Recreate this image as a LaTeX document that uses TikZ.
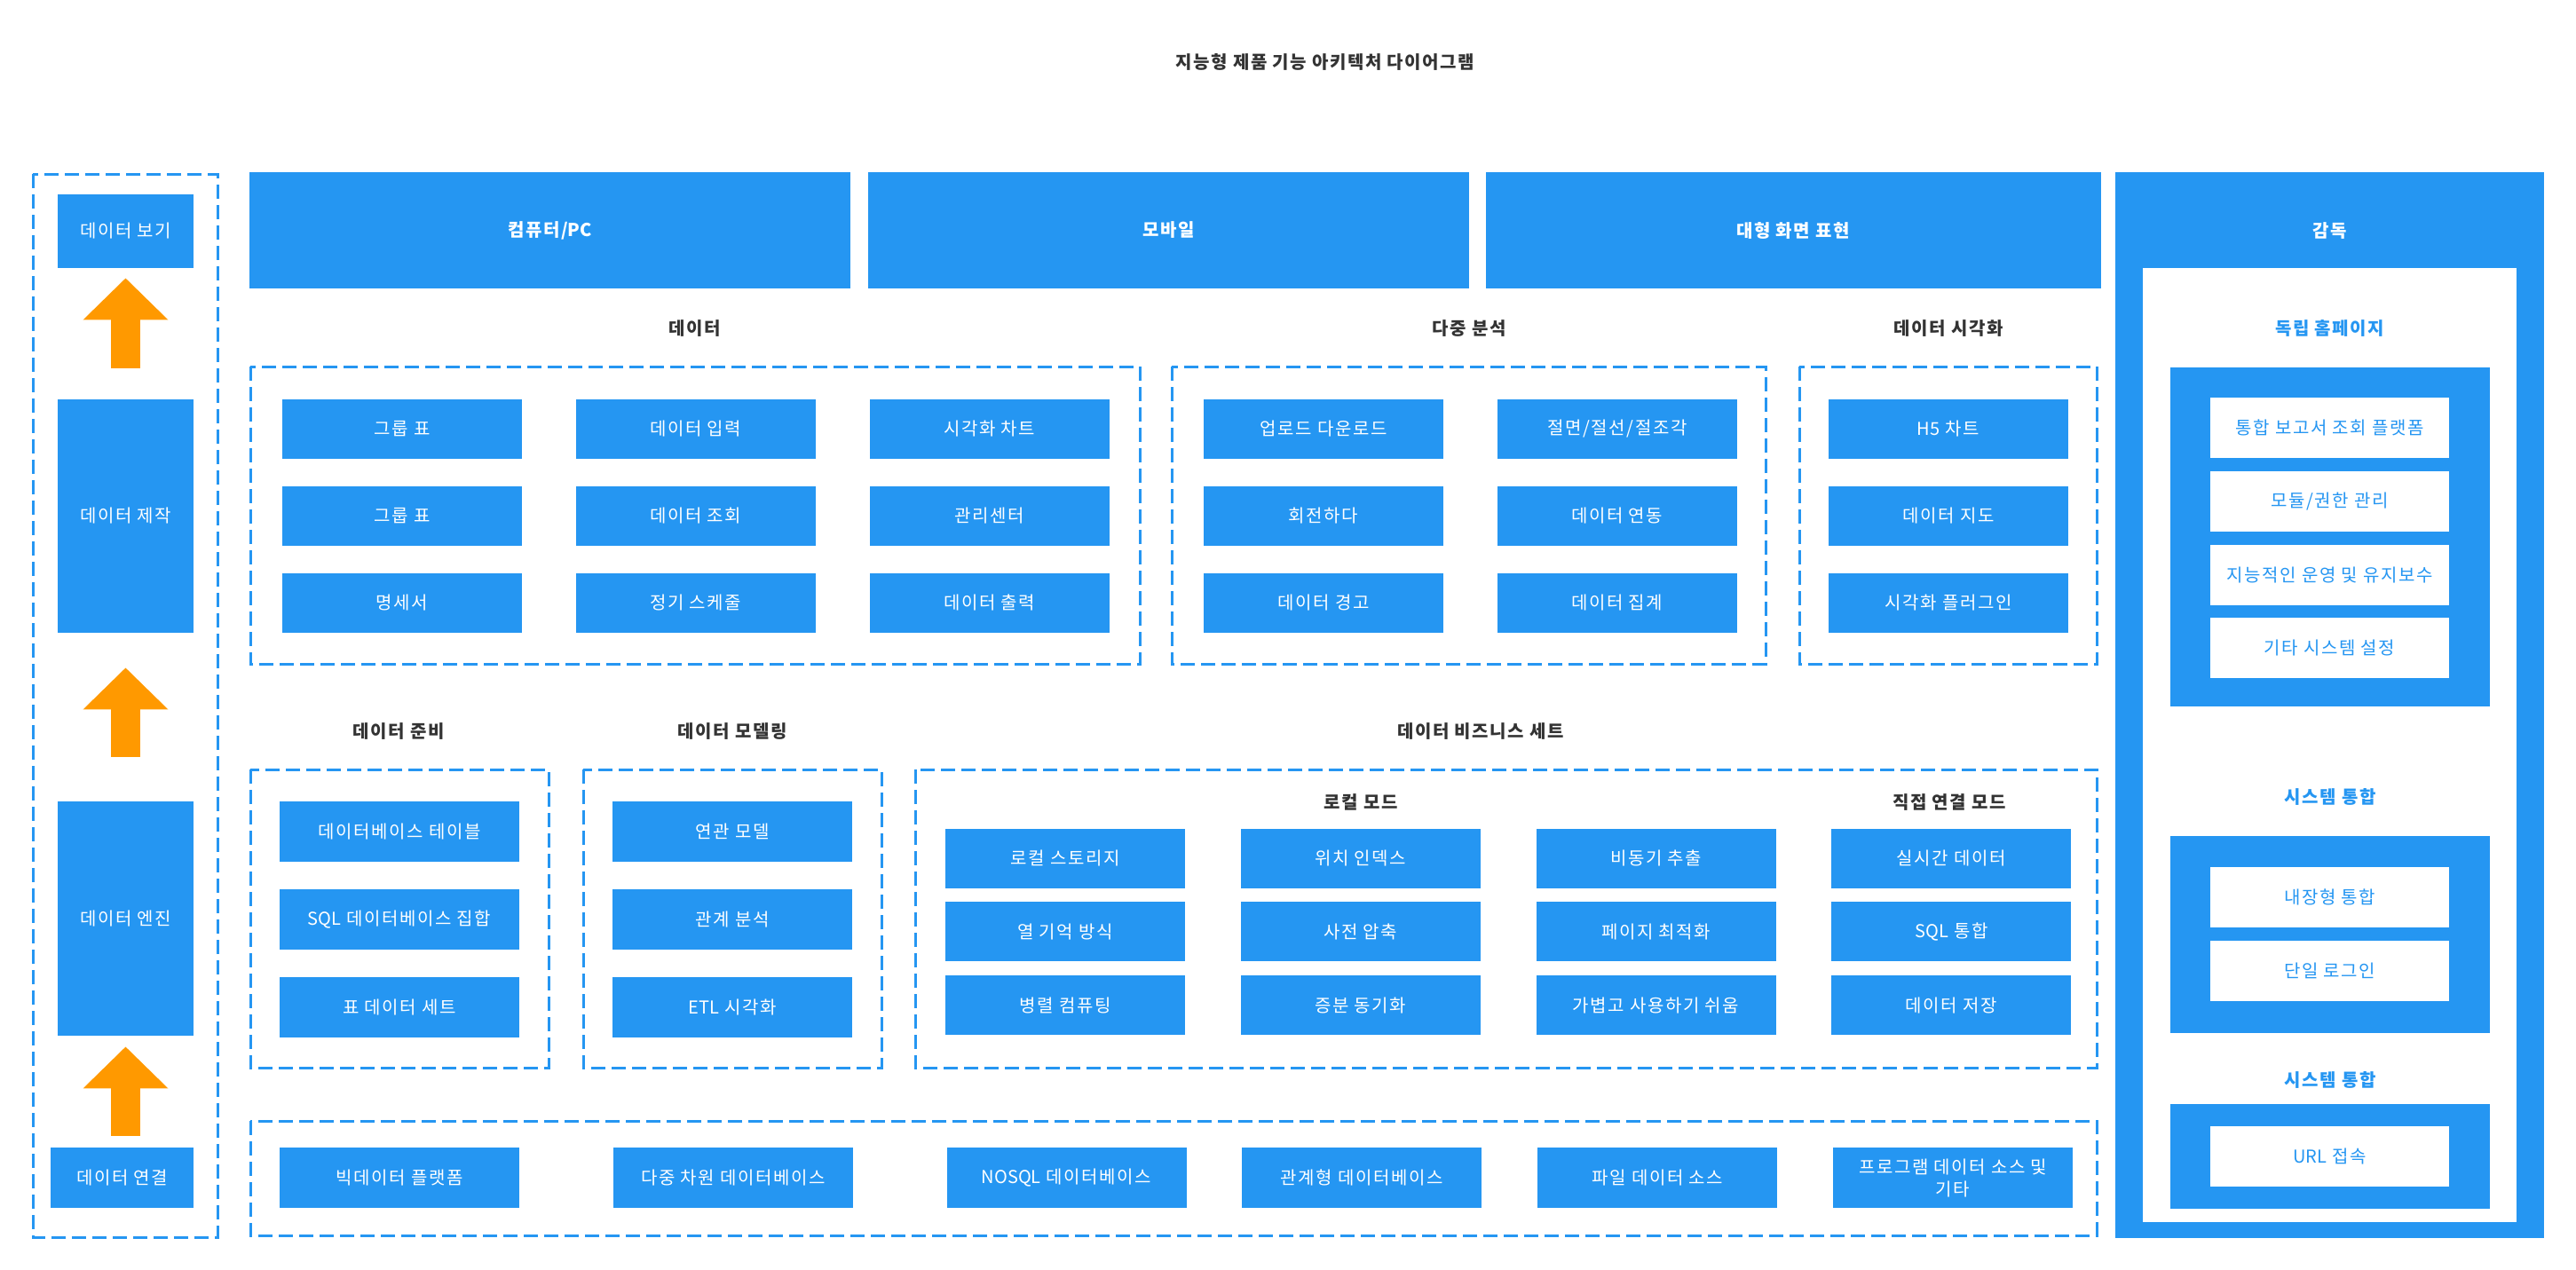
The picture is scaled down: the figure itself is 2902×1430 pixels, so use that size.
\documentclass[tikz,border=0pt]{standalone}
\usepackage{fontspec}
\setmainfont{Noto Sans CJK KR}[LetterSpace=8]
\newfontfamily\tightlatin{Noto Sans CJK KR}
\usetikzlibrary{positioning,arrows.meta}
\definecolor{archblue}{HTML}{2596F2}
\definecolor{archorange}{HTML}{FF9900}
\definecolor{archtext}{HTML}{333333}
\newcommand{\archfont}{\fontsize{10pt}{12.5pt}\selectfont}
\newcommand{\lat}[1]{{\tightlatin #1}}

\begin{document}
\begin{tikzpicture}[x=0.5pt, y=-0.5pt, every node/.style={font=\archfont, inner sep=0pt},
  cell/.style={fill=archblue, text=white, minimum width=135pt, minimum height=33.5pt},
  wcell/.style={fill=white, text=archblue, minimum width=134.5pt, minimum height=34pt},
  bar/.style={fill=archblue, text=white, font=\archfont\bfseries, minimum height=65.5pt},
  side/.style={fill=archblue, text=white, minimum width=76.5pt},
  heading/.style={text=archtext, font=\archfont\bfseries},
  bheading/.style={text=archblue, font=\archfont\bfseries},
  group/.style={draw=archblue, line width=1.5pt, dash pattern=on 8pt off 3.5pt},
  uparrow/.style={draw=archorange, line width=16.5pt, -{Triangle[length=23.5pt,width=46.5pt]}}]
  \useasboundingbox (0,0) rectangle (2902,1430);

  \node[heading] (title) at (1493,70) {지능형 제품 기능 아키텍처 다이어그램};

  \draw[group] (37,196) rectangle (245,1394);
  \node[side, minimum height=41.5pt] (view) at (141.5,260.5) {데이터 보기};
  \node[side, minimum height=131.5pt] (make) at (141.5,581.5) {데이터 제작};
  \node[side, minimum height=132pt] (engine) at (141.5,1035) {데이터 엔진};
  \node[side, minimum width=80.5pt, minimum height=34pt] (link) at (137.5,1327) {데이터 연결};
  \draw[uparrow, shorten <=6.5pt, shorten >=6pt] (link.north -| engine.south) -- (engine.south);
  \draw[uparrow, shorten <=25pt, shorten >=19.5pt] (engine.north) -- (make.south);
  \draw[uparrow, shorten <=17.5pt, shorten >=5.5pt] (make.north) -- (view.south);

  \node[bar, minimum width=338.5pt] (pc) at (619.5,259.5) {컴퓨터/\lat{PC}};
  \node[bar, minimum width=338.5pt, right=9.5pt of pc] (mobile) {모바일};
  \node[bar, minimum width=346.5pt, right=9pt of mobile] (screen) {대형 화면 표현};

  \node[heading] (hdata) at (783,370) {데이터};
  \draw[group] (282,413) rectangle (1284,748);
  \node[cell] (d11) at (453,483.5) {그룹 표};
  \node[cell, right=30pt of d11] (d12) {데이터 입력};
  \node[cell, right=30pt of d12] (d13) {시각화 차트};
  \node[cell, below=15pt of d11] (d21) {그룹 표};
  \node[cell, right=30pt of d21] (d22) {데이터 조회};
  \node[cell, right=30pt of d22] (d23) {관리센터};
  \node[cell, below=15pt of d21] (d31) {명세서};
  \node[cell, right=30pt of d31] (d32) {정기 스케줄};
  \node[cell, right=30pt of d32] (d33) {데이터 출력};

  \node[heading] (hmulti) at (1655,370) {다중 분석};
  \draw[group] (1320,413) rectangle (1989,748);
  \node[cell] (m11) at (1491,483.5) {업로드 다운로드};
  \node[cell, right=30pt of m11] (m12) {절면/절선/절조각};
  \node[cell, below=15pt of m11] (m21) {회전하다};
  \node[cell, right=30pt of m21] (m22) {데이터 연동};
  \node[cell, below=15pt of m21] (m31) {데이터 경고};
  \node[cell, right=30pt of m31] (m32) {데이터 집계};

  \node[heading] (hvis) at (2195,370) {데이터 시각화};
  \draw[group] (2027,413) rectangle (2362,748);
  \node[cell] (v1) at (2195,483.5) {\lat{H5} 차트};
  \node[cell, below=15pt of v1] (v2) {데이터 지도};
  \node[cell, below=15pt of v2] (v3) {시각화 플러그인};

  \node[heading] (hprep) at (449,824) {데이터 준비};
  \draw[group] (282,867) rectangle (618,1203);
  \node[cell, minimum height=34pt] (p1) at (450,937) {데이터베이스 테이블};
  \node[cell, minimum height=34pt, below=15pt of p1] (p2) {\lat{SQL} 데이터베이스 집합};
  \node[cell, minimum height=34pt, below=15pt of p2] (p3) {표 데이터 세트};

  \node[heading] (hmodel) at (825,824) {데이터 모델링};
  \draw[group] (657,867) rectangle (993,1203);
  \node[cell, minimum height=34pt] (mo1) at (825,937) {연관 모델};
  \node[cell, minimum height=34pt, below=15pt of mo1] (mo2) {관계 분석};
  \node[cell, minimum height=34pt, below=15pt of mo2] (mo3) {\lat{ETL} 시각화};

  \node[heading] (hbiz) at (1668,824) {데이터 비즈니스 세트};
  \draw[group] (1031,867) rectangle (2362,1203);
  \node[heading] (hlocal) at (1533,904) {로컬 모드};
  \node[heading] (hdirect) at (2196,904) {직접 연결 모드};
  \node[cell] (b11) at (1200,967) {로컬 스토리지};
  \node[cell, right=31pt of b11] (b12) {위치 인덱스};
  \node[cell, right=31pt of b12] (b13) {비동기 추출};
  \node[cell, right=31pt of b13] (b14) {실시간 데이터};
  \node[cell, below=7.5pt of b11] (b21) {열 기억 방식};
  \node[cell, right=31pt of b21] (b22) {사전 압축};
  \node[cell, right=31pt of b22] (b23) {페이지 최적화};
  \node[cell, right=31pt of b23] (b24) {\lat{SQL} 통합};
  \node[cell, below=7.5pt of b21] (b31) {병렬 컴퓨팅};
  \node[cell, right=31pt of b31] (b32) {증분 동기화};
  \node[cell, right=31pt of b32] (b33) {가볍고 사용하기 쉬움};
  \node[cell, right=31pt of b33] (b34) {데이터 저장};

  \draw[group] (282,1263) rectangle (2362,1392);
  \node[cell, minimum height=34pt] (s1) at (450,1327) {빅데이터 플랫폼};
  \node[cell, minimum height=34pt, right=52.5pt of s1] (s2) {다중 차원 데이터베이스};
  \node[cell, minimum height=34pt, right=52.5pt of s2] (s3) {\lat{NOSQL} 데이터베이스};
  \node[cell, minimum height=34pt, right=31pt of s3] (s4) {관계형 데이터베이스};
  \node[cell, minimum height=34pt, right=31pt of s4] (s5) {파일 데이터 소스};
  \node[cell, minimum height=34pt, right=31pt of s5, align=center] (s6) {프로그램 데이터 소스 및\\기타};

  \fill[archblue] (2383,194) rectangle (2866,1395);
  \fill[white] (2414,302) rectangle (2835,1377);
  \node[text=white, font=\archfont\bfseries] (hsup) at (2624.5,260) {감독};
  \node[bheading] (hhome) at (2624.5,370) {독립 홈페이지};
  \fill[archblue] (2445,414) rectangle (2805,796);
  \node[wcell] (w1) at (2624.5,482) {통합 보고서 조회 플랫폼};
  \node[wcell, below=7pt of w1] (w2) {모듈/권한 관리};
  \node[wcell, below=7pt of w2] (w3) {지능적인 운영 및 유지보수};
  \node[wcell, below=7pt of w3] (w4) {기타 시스템 설정};
  \node[bheading] (hsys1) at (2625,898) {시스템 통합};
  \fill[archblue] (2445,942) rectangle (2805,1164);
  \node[wcell] (w5) at (2624.5,1010.5) {내장형 통합};
  \node[wcell, below=7.5pt of w5] (w6) {단일 로그인};
  \node[bheading] (hsys2) at (2625,1217) {시스템 통합};
  \fill[archblue] (2445,1244) rectangle (2805,1362);
  \node[wcell] (w7) at (2624.5,1303) {\lat{URL} 접속};
\end{tikzpicture}
\end{document}
